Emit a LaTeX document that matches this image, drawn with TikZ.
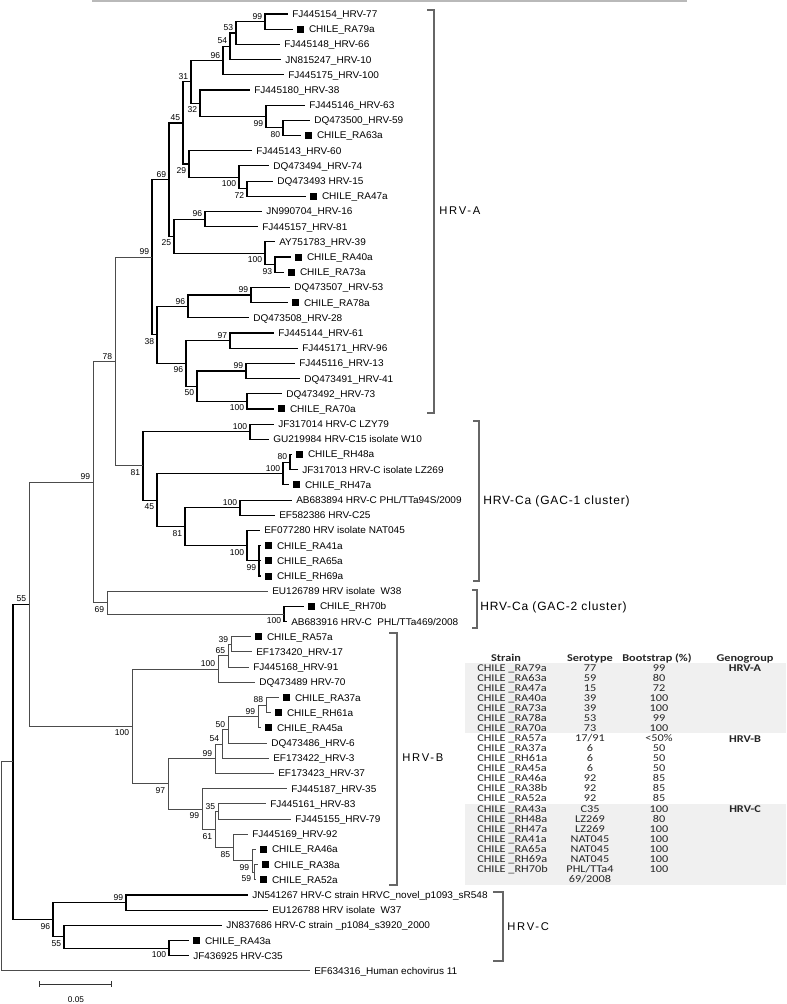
\documentclass[tikz,border=0pt]{standalone}
\usepackage{fontspec}
\setmainfont{Liberation Sans}
\newfontfamily\leaffont[FakeStretch=1.03]{Liberation Sans}
\newfontfamily\tabfont[FakeStretch=1.18]{Carlito}
\newcommand\mk{\rule{5.2pt}{5.2pt}\hspace{3.6pt}}
\newcommand\lf[3]{\coordinate (l#1) at (#2,{15.19*#1-1.19}); \node[leaf] (t#1) at (l#1) {#3};}
\newcommand\lc[3]{\coordinate (l#1) at (#2,{15.19*#1-1.19}); \node[leaf] (t#1) at (l#1) {\mk#3};}
\newcommand\tn[5]{\coordinate (#1) at (#2,{15.19*(#3)-1.19}); \node[#5] (b#1) at (#1) {#4};}
\newcommand\trow[4]{\node[tbs] (ts#1) at (477,{668+10.05*(#1-1)}) {CHILE \_#2};
  \node[tbc] (tr#1) at (590,{668+10.05*(#1-1)}) {#3};
  \node[tbc] (tb#1) at (659,{668+10.05*(#1-1)}) {#4};}
\tikzset{
 leaf/.style={anchor=west, inner sep=0pt, xshift=3pt, font=\leaffont\fontsize{7.3}{8}\selectfont, text height=5.2pt, text depth=0pt},
 bsa/.style={anchor=south east, inner sep=0pt, xshift=-2pt, yshift=1.5pt, font=\fontsize{6.4}{7}\selectfont},
 bsb/.style={anchor=north east, inner sep=0pt, xshift=-2pt, yshift=-2.5pt, font=\fontsize{6.4}{7}\selectfont},
 br/.style={draw=black, line width=0.85pt},
 brg/.style={draw=black!70, line width=0.75pt},
 clb/.style={draw=black!60, line width=0.8pt},
 clab/.style={anchor=west, inner sep=0pt, font=\fontsize{8.4}{9}\selectfont\addfontfeature{LetterSpace=16}},
 gac/.style={anchor=west, inner sep=0pt, font=\fontsize{9}{10}\selectfont\addfontfeature{LetterSpace=7}},
 tbs/.style={anchor=west, inner sep=0pt, font=\tabfont\fontsize{7.8}{8}\selectfont, text=black!85, text height=5pt, text depth=0pt},
 tbc/.style={tbs, anchor=center},
 tbh/.style={tbc, font=\tabfont\bfseries\fontsize{7.8}{8}\selectfont},
 sbar/.style={draw=black!80, line width=0.7pt},
}
\begin{document}
\begin{tikzpicture}[x=0.75pt, y=-0.75pt]
\useasboundingbox (0,0) rectangle (787,1004);
% top remnant line
\draw[gray!55, line width=1.4pt] (92,1) -- (687,1);
% table shading
\fill[gray!12] (465,663) rectangle (786,733);
\fill[gray!12] (465,804) rectangle (786,885);
% leaves
\lf{1}{288}{FJ445154\_HRV-77}
\lc{2}{293}{CHILE\_RA79a}
\lf{3}{280}{FJ445148\_HRV-66}
\lf{4}{281}{JN815247\_HRV-10}
\lf{5}{284}{FJ445175\_HRV-100}
\lf{6}{250}{FJ445180\_HRV-38}
\lf{7}{305}{FJ445146\_HRV-63}
\lf{8}{310}{DQ473500\_HRV-59}
\lc{9}{301}{CHILE\_RA63a}
\lf{10}{252}{FJ445143\_HRV-60}
\lf{11}{269}{DQ473494\_HRV-74}
\lf{12}{273}{DQ473493 HRV-15}
\lc{13}{306}{CHILE\_RA47a}
\lf{14}{262}{JN990704\_HRV-16}
\lf{15}{258}{FJ445157\_HRV-81}
\lf{16}{275}{AY751783\_HRV-39}
\lc{17}{291}{CHILE\_RA40a}
\lc{18}{284}{CHILE\_RA73a}
\lf{19}{290}{DQ473507\_HRV-53}
\lc{20}{288}{CHILE\_RA78a}
\lf{21}{249}{DQ473508\_HRV-28}
\lf{22}{274}{FJ445144\_HRV-61}
\lf{23}{298}{FJ445171\_HRV-96}
\lf{24}{295}{FJ445116\_HRV-13}
\lf{25}{300}{DQ473491\_HRV-41}
\lf{26}{282}{DQ473492\_HRV-73}
\lc{27}{274}{CHILE\_RA70a}
\lf{28}{274}{JF317014 HRV-C LZY79}
\lf{29}{269}{GU219984 HRV-C15 isolate W10}
\lc{30}{292}{CHILE\_RH48a}
\lf{31}{298}{JF317013 HRV-C isolate LZ269}
\lc{32}{289}{CHILE\_RH47a}
\lf{33}{292}{AB683894 HRV-C PHL/TTa94S/2009}
\lf{34}{275}{EF582386 HRV-C25}
\lf{35}{260}{EF077280 HRV isolate NAT045}
\lc{36}{261}{CHILE\_RA41a}
\lc{37}{261}{CHILE\_RA65a}
\lc{38}{261}{CHILE\_RH69a}
\lf{39}{268}{EU126789 HRV isolate \ W38}
\lc{40}{304}{CHILE\_RH70b}
\lf{41}{287}{AB683916 HRV-C \ PHL/TTa469/2008}
\lc{42}{251}{CHILE\_RA57a}
\lf{43}{252}{EF173420\_HRV-17}
\lf{44}{249}{FJ445168\_HRV-91}
\lf{45}{255}{DQ473489 HRV-70}
\lc{46}{279}{CHILE\_RA37a}
\lc{47}{271}{CHILE\_RH61a}
\lc{48}{261}{CHILE\_RA45a}
\lf{49}{267}{DQ473486\_HRV-6}
\lf{50}{269}{EF173422\_HRV-3}
\lf{51}{274}{EF173423\_HRV-37}
\lf{52}{287}{FJ445187\_HRV-35}
\lf{53}{266}{FJ445161\_HRV-83}
\lf{54}{291}{FJ445155\_HRV-79}
\lf{55}{248}{FJ445169\_HRV-92}
\lc{56}{256}{CHILE\_RA46a}
\lc{57}{258}{CHILE\_RA38a}
\lc{58}{256}{CHILE\_RA52a}
\lf{59}{248}{JN541267 HRV-C strain HRVC\_novel\_p1093\_sR548}
\lf{60}{268}{EU126788 HRV isolate \ W37}
\lf{61}{222}{JN837686 HRV-C strain \_p1084\_s3920\_2000}
\lc{62}{189}{CHILE\_RA43a}
\lf{63}{189}{JF436925 HRV-C35}
\lf{64}{310}{EF634316\_Human echovirus 11}
% internal nodes
\tn{n1}{265}{1.5}{99}{bsa}
\tn{n2}{236}{2.25}{53}{bsa}
\tn{n3}{230}{3.125}{54}{bsa}
\tn{n4}{223}{4.0625}{96}{bsa}
\tn{n5}{283}{8.5}{80}{bsb}
\tn{n6}{266}{7.75}{99}{bsb}
\tn{n7}{200}{6.875}{32}{bsb}
\tn{n8}{191}{5.46875}{31}{bsa}
\tn{n9}{247}{12.5}{72}{bsb}
\tn{n10}{239}{11.75}{100}{bsb}
\tn{n11}{189}{10.875}{29}{bsb}
\tn{n12}{183}{8.171875}{45}{bsa}
\tn{n13}{205}{14.5}{96}{bsa}
\tn{n14}{275}{17.5}{93}{bsb}
\tn{n15}{265}{16.75}{100}{bsb}
\tn{n16}{174}{15.625}{25}{bsb}
\tn{n17}{169}{11.8984}{69}{bsa}
\tn{n18}{251}{19.5}{99}{bsa}
\tn{n19}{188}{20.25}{96}{bsa}
\tn{n20}{230}{22.5}{97}{bsa}
\tn{n21}{246}{24.5}{99}{bsa}
\tn{n22}{247}{26.5}{100}{bsb}
\tn{n23}{197}{25.5}{50}{bsb}
\tn{n24}{186}{24}{96}{bsb}
\tn{n25}{157}{22.125}{38}{bsb}
\tn{n26}{152}{17.0117}{99}{bsa}
\tn{n27}{250}{28.5}{100}{bsa}
\tn{n28}{290}{30.5}{80}{bsa}
\tn{n29}{283}{31.25}{100}{bsa}
\tn{n30}{240}{33.5}{100}{bsa}
\tn{n31}{259}{37}{99}{bsb}
\tn{n32}{247}{36}{100}{bsb}
\tn{n33}{185}{34.75}{81}{bsb}
\tn{n34}{157}{33}{45}{bsb}
\tn{n35}{143}{30.75}{81}{bsb}
\tn{n36}{115}{23.88}{78}{bsa}
\tn{n37}{284}{40.5}{100}{bsb}
\tn{n38}{107}{39.75}{69}{bsb}
\tn{n39}{93}{31.815}{99}{bsa}
\tn{m1}{231}{42.5}{39}{bsa}
\tn{m2}{228}{43.25}{65}{bsa}
\tn{m3}{218}{44.125}{100}{bsa}
\tn{m4}{266}{46.5}{88}{bsa}
\tn{m5}{258}{47.25}{99}{bsa}
\tn{m6}{228}{48.125}{50}{bsa}
\tn{m7}{222}{49.0625}{54}{bsa}
\tn{m8}{215}{50.03}{99}{bsa}
\tn{m9}{218}{53.5}{35}{bsa}
\tn{m10}{254}{57.5}{59}{bsb}
\tn{m11}{252}{56.75}{99}{bsb}
\tn{m12}{233}{55.875}{85}{bsb}
\tn{m13}{215}{54.6875}{61}{bsb}
\tn{m14}{202}{53.34}{99}{bsb}
\tn{m15}{168}{51.69}{97}{bsb}
\tn{m16}{132}{47.9}{100}{bsb}
\tn{m17}{29}{39.86}{55}{bsa}
\tn{c1}{126}{59.5}{99}{bsa}
\tn{c2}{169}{62.5}{100}{bsb}
\tn{c3}{64}{61.75}{55}{bsb}
\tn{c4}{53}{60.625}{96}{bsb}
\coordinate (c5) at (13,{15.19*50.24-1.19});
\coordinate (rt) at (1,{15.19*57.12-1.19});
% branches
\foreach \p/\c in {n1/l1,n1/l2,n2/n1,n2/l3,n3/n2,n3/l4,n4/n3,n4/l5,n5/l8,n5/l9,n6/l7,n6/n5,n7/l6,n7/n6,n8/n4,n8/n7,n9/l12,n9/l13,n10/l11,n10/n9,n11/l10,n11/n10,n12/n8,n12/n11,n13/l14,n13/l15,n14/l17,n14/l18,n15/l16,n15/n14,n16/n13,n16/n15,n17/n12,n17/n16,n18/l19,n18/l20,n19/n18,n19/l21,n20/l22,n20/l23,n21/l24,n21/l25,n22/l26,n22/l27,n23/n21,n23/n22,n24/n20,n24/n23,n25/n19,n25/n24,n26/n17,n26/n25,n27/l28,n27/l29,n28/l30,n28/l31,n29/n28,n29/l32,n30/l33,n30/l34,n31/l36,n31/l37,n31/l38,n32/l35,n32/n31,n33/n30,n33/n32,n34/n29,n34/n33,n35/n27,n35/n34,n37/l40,n37/l41,c1/l59,c1/l60,c2/l62,c2/l63,c3/l61,c3/c2,c4/c1,c4/c3,c5/m17,c5/c4}
  \draw[br] (\p) |- (\c);
\foreach \p/\c in {n36/n26,n36/n35,n38/l39,n38/n37,n39/n36,n39/n38,m1/l42,m1/l43,m2/m1,m2/l44,m3/m2,m3/l45,m4/l46,m4/l47,m5/m4,m5/l48,m6/m5,m6/l49,m7/m6,m7/l50,m8/m7,m8/l51,m9/l53,m9/l54,m10/l57,m10/l58,m11/l56,m11/m10,m12/l55,m12/m11,m13/m9,m13/m12,m14/l52,m14/m13,m15/m8,m15/m14,m16/m3,m16/m15,m17/n39,m17/m16,rt/c5,rt/l64}
  \draw[brg] (\p) |- (\c);
% clade brackets
\draw[clb] (427,10) -- (434,10) -- (434,413) -- (427,413);
\node[clab] (cla) at (439,211) {HRV-A};
\draw[clb] (473,421) -- (479,421) -- (479,581) -- (473,581);
\node[gac] (clg1) at (483,501) {HRV-Ca (GAC-1 cluster)};
\draw[clb] (472,590) -- (477,590) -- (477,628) -- (472,628);
\node[gac] (clg2) at (480,607) {HRV-Ca (GAC-2 cluster)};
\draw[clb] (389,633) -- (397,633) -- (397,885) -- (389,885);
\node[clab] (clbb) at (402,758) {HRV-B};
\draw[clb] (493,892) -- (503,892) -- (503,961) -- (493,961);
\node[clab] (clc) at (507,927) {HRV-C};
% scale bar
\coordinate (sb1) at (39,984);
\coordinate (sb2) at (111,984);
\draw[sbar] (sb1) -- (sb2);
\draw[sbar] ([yshift=2.2pt]sb1) -- ([yshift=-2.2pt]sb1);
\draw[sbar] ([yshift=2.2pt]sb2) -- ([yshift=-2.2pt]sb2);
\node[inner sep=0pt, font=\fontsize{6.2}{7}\selectfont] (sbl) at (76,1000) {0.05};
% table
\node[tbh] (h1) at (506,658) {Strain};
\node[tbh] (h2) at (590,658) {Serotype};
\node[tbh] (h3) at (657,658) {Bootstrap (\%)};
\node[tbh] (h4) at (745,658) {Genogroup};
\trow{1}{RA79a}{77}{99}
\trow{2}{RA63a}{59}{80}
\trow{3}{RA47a}{15}{72}
\trow{4}{RA40a}{39}{100}
\trow{5}{RA73a}{39}{100}
\trow{6}{RA78a}{53}{99}
\trow{7}{RA70a}{73}{100}
\trow{8}{RA57a}{17/91}{<50\%}
\trow{9}{RA37a}{6}{50}
\trow{10}{RH61a}{6}{50}
\trow{11}{RA45a}{6}{50}
\trow{12}{RA46a}{92}{85}
\trow{13}{RA38b}{92}{85}
\trow{14}{RA52a}{92}{85}
\trow{15}{RA43a}{C35}{100}
\trow{16}{RH48a}{LZ269}{80}
\trow{17}{RH47a}{LZ269}{100}
\trow{18}{RA41a}{NAT045}{100}
\trow{19}{RA65a}{NAT045}{100}
\trow{20}{RH69a}{NAT045}{100}
\trow{21}{RH70b}{PHL/TTa4}{100}
\node[tbc] (tr22) at (590,879) {69/2008};
\node[tbh] (g1) at (745,668) {HRV-A};
\node[tbh] (g2) at (745,739) {HRV-B};
\node[tbh] (g3) at (745,809) {HRV-C};
\end{tikzpicture}
\end{document}
